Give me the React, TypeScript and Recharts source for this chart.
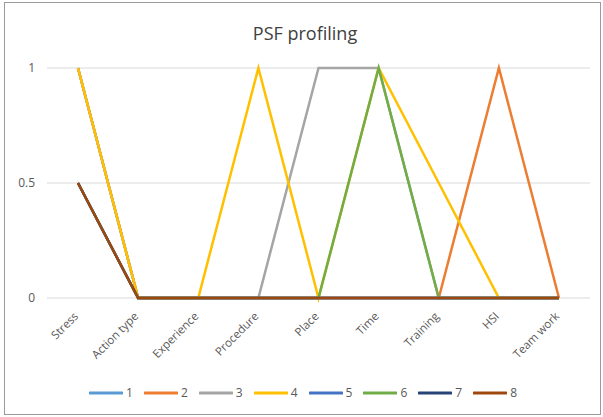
import { LineChart, Line, XAxis, YAxis, CartesianGrid, Legend } from 'recharts';

const categories = ['Stress', 'Action type', 'Experience', 'Procedure', 'Place', 'Time', 'Training', 'HSI', 'Team work'];

const s1 = [1, 0, 0, 0, 0, 0, 0, 0, 0];
const s2 = [1, 0, 0, 0, 0, 0, 0, 1, 0];
const s3 = [1, 0, 0, 0, 1, 1, 0, 0, 0];
const s4 = [1, 0, 0, 1, 0, 1, 0.5, 0, 0];
const s5 = [0.5, 0, 0, 0, 0, 0, 0, 0, 0];
const s6 = [0.5, 0, 0, 0, 0, 1, 0, 0, 0];
const s7 = [0.5, 0, 0, 0, 0, 0, 0, 0, 0];
const s8 = [0.5, 0, 0, 0, 0, 0, 0, 0, 0];

const yTicks = [0, 0.5, 1];

const seriesList = [
  { key: '1', values: s1, color: '#5B9BD5' },
  { key: '2', values: s2, color: '#ED7D31' },
  { key: '3', values: s3, color: '#A5A5A5' },
  { key: '4', values: s4, color: '#FFC000' },
  { key: '5', values: s5, color: '#4472C4' },
  { key: '6', values: s6, color: '#70AD47' },
  { key: '7', values: s7, color: '#264478' },
  { key: '8', values: s8, color: '#9E480E' },
];

const data = categories.map((name, i) => {
  const row: any = { name };
  seriesList.forEach((s) => {
    row[s.key] = s.values[i];
  });
  return row;
});

const FONT = '"Open Sans", "Liberation Sans", sans-serif';

const AngledTick = ({ x, y, payload }: any) => (
  <text
    x={x + 1}
    y={y + 11}
    transform={`rotate(-45, ${x + 1}, ${y + 11})`}
    textAnchor="end"
    fontSize={11.5}
    fill="#595959"
    fontFamily={FONT}
  >
    {payload.value}
  </text>
);

const LegendContent = () => (
  <div style={{ display: 'flex', justifyContent: 'center', alignItems: 'center', height: 29, fontFamily: FONT, fontSize: 12, color: '#595959', paddingLeft: 27 }}>
    {seriesList.map((s) => (
      <div key={s.key} style={{ display: 'flex', alignItems: 'center', marginRight: 11 }}>
        <svg width={34} height={6}>
          <line x1={1} y1={3} x2={33} y2={3} stroke={s.color} strokeWidth={3} strokeLinecap="round" />
        </svg>
        <span style={{ marginLeft: 3 }}>{s.key}</span>
      </div>
    ))}
  </div>
);

export default function App() {
  return (
    <div style={{ position: 'absolute', left: 0, top: 0, width: 603, height: 417, background: '#fff' }}>
      <div style={{ position: 'absolute', left: 4, top: 2, width: 595, height: 411, border: '1px solid #9a9a9a' }} />
      <div
        style={{
          position: 'absolute',
          left: 0,
          top: 21,
          width: 610,
          textAlign: 'center',
          fontFamily: FONT,
          fontSize: 18,
          color: '#404040',
        }}
      >
        PSF profiling
      </div>
      <div style={{ position: 'absolute', left: 0, top: 0 }}>
        <LineChart width={603} height={417} data={data} margin={{ top: 68, right: 13, left: 0, bottom: 10 }}>
          <CartesianGrid vertical={false} stroke="#d9d9d9" strokeWidth={1.2} />
          <XAxis
            dataKey="name"
            axisLine={false}
            tickLine={false}
            height={80}
            tick={<AngledTick />}
            interval={0}
            padding={{ left: 31, right: 31 }}
          />
          <YAxis
            width={47}
            domain={[0, 1]}
            ticks={yTicks}
            axisLine={false}
            tickLine={false}
            tickMargin={6}
            tick={{ fontSize: 12, fill: '#595959', fontFamily: FONT }}
          />
          <Legend verticalAlign="bottom" height={29} content={<LegendContent />} />
          {seriesList.map((s) => (
            <Line
              key={s.key}
              type="linear"
              dataKey={s.key}
              stroke={s.color}
              strokeWidth={2.5}
              dot={false}
              activeDot={false}
              isAnimationActive={false}
            />
          ))}
        </LineChart>
      </div>
    </div>
  );
}
